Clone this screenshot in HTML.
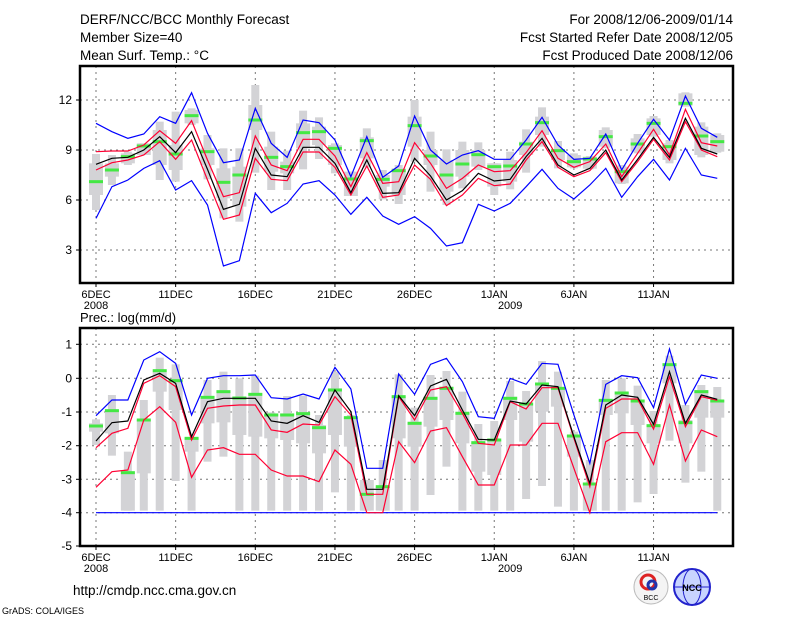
<!DOCTYPE html>
<html><head><meta charset="utf-8"><style>
html,body{margin:0;padding:0;background:#fff;width:800px;height:618px;overflow:hidden}
svg{display:block}
text{font-family:"Liberation Sans",sans-serif;fill:#000}
</style></head><body>
<svg id="s" width="800" height="618" xmlns="http://www.w3.org/2000/svg">
<text x="80" y="24" font-size="13.5">DERF/NCC/BCC Monthly Forecast</text>
<text x="80" y="42" font-size="13.5">Member Size=40</text>
<text x="80" y="60" font-size="13.5">Mean Surf. Temp.: °C</text>
<text x="733" y="24" font-size="13.5" text-anchor="end">For 2008/12/06-2009/01/14</text>
<text x="733" y="42" font-size="13.5" text-anchor="end">Fcst Started Refer Date 2008/12/05</text>
<text x="733" y="60" font-size="13.5" text-anchor="end">Fcst Produced Date 2008/12/06</text>
<text x="80" y="322" font-size="13">Prec.: log(mm/d)</text>
<text x="73" y="595" font-size="13.5">http://cmdp.ncc.cma.gov.cn</text>
<text x="2" y="614" font-size="9">GrADS: COLA/IGES</text>
<g>
<circle cx="651" cy="587" r="17" fill="#f4f4f4" stroke="#bbb"/>
<circle cx="648" cy="582" r="7" fill="none" stroke="#d22" stroke-width="3"/>
<circle cx="652" cy="585" r="4" fill="none" stroke="#23a" stroke-width="3"/>
<text x="651" y="600" font-size="7" text-anchor="middle" fill="#333">BCC</text>
<circle cx="692" cy="587" r="18" fill="#c8d4ff" stroke="#22c" stroke-width="2"/>
<ellipse cx="692" cy="587" rx="9" ry="18" fill="none" stroke="#22c"/>
<line x1="674" y1="587" x2="710" y2="587" stroke="#22c"/>
<text x="692" y="591" font-size="9" text-anchor="middle" fill="#22c" font-weight="bold">NCC</text>
</g>
</svg>
<script>
var S=document.getElementById('s'),NS='http://www.w3.org/2000/svg';
function el(t,a,txt){var e=document.createElementNS(NS,t);for(var k in a)e.setAttribute(k,a[k]);if(txt)e.textContent=txt;S.appendChild(e);return e;}
function X(i){return 96+15.93*i;}
function panel(oy,top,bot,hgrid,labels,d){
 // grid
 for(var k=0;k<8;k++){var x=X(k*5);el('line',{x1:x,y1:top,x2:x,y2:bot,stroke:'#777','stroke-dasharray':'2,4','stroke-width':1});}
 hgrid.forEach(function(g){el('line',{x1:80,y1:g[0],x2:733,y2:g[0],stroke:'#777','stroke-dasharray':'2,4','stroke-width':1});});
 function Y(z){return oy+z/3;}
 // bars
 d.bo.forEach(function(b,i){var x=X(i);el('rect',{x:x-4,y:Y(b[0]),width:8,height:Y(b[1])-Y(b[0]),fill:'#d3d3d6'});});
 d.bi.forEach(function(b,i){var x=X(i);el('rect',{x:x-7,y:Y(b[0]),width:14,height:Y(b[1])-Y(b[0]),fill:'#d3d3d6'});});
 d.g.forEach(function(v,i){el('rect',{x:X(i)-7,y:Y(v)-1.5,width:14,height:3,fill:'#44e844'});});
 function line(a,c){el('polyline',{points:a.map(function(v,i){return X(i)+','+Y(v)}).join(' '),fill:'none',stroke:c,'stroke-width':1.2});}
 line(d.bu,'#0000ff');line(d.bl,'#0000ff');line(d.ru,'#ff0033');line(d.rl,'#ff0033');line(d.k,'#000');
 el('rect',{x:80,y:top,width:653,height:bot-top,fill:'none',stroke:'#000','stroke-width':2.5});
 labels.forEach(function(l){el('line',{x1:76,y1:l[0],x2:80,y2:l[0],stroke:'#000'});el('text',{x:72,y:l[0]+4,'font-size':12,'text-anchor':'end'},l[1]);});
 var xl=['6DEC','11DEC','16DEC','21DEC','26DEC','1JAN','6JAN','11JAN'];
 for(var k=0;k<8;k++){var x=X(k*5);el('line',{x1:x,y1:bot,x2:x,y2:bot+4,stroke:'#000'});el('text',{x:x,y:bot+15,'font-size':11,'text-anchor':'middle'},xl[k]);}
 el('text',{x:X(0),y:bot+26,'font-size':11,'text-anchor':'middle'},'2008');
 el('text',{x:X(26),y:bot+26,'font-size':11,'text-anchor':'middle'},'2009');
}
var T={
bu:[130,155,175,162,110,130,38,160,248,240,85,190,232,120,128,180,290,170,292,258,108,210,252,225,212,238,238,180,112,195,238,235,162,270,190,118,180,48,145,172],
bl:[415,320,300,265,242,330,302,375,558,542,340,398,370,312,302,345,403,352,408,433,410,445,498,488,373,393,370,320,268,325,357,315,265,352,290,238,300,205,285,295],
ru:[215,213,213,195,152,190,122,240,350,338,168,255,272,178,178,228,320,218,310,305,188,250,325,295,255,275,272,218,152,235,262,245,192,290,220,148,225,88,188,198],
rl:[270,248,240,225,185,238,180,300,418,405,235,298,302,216,216,262,345,258,352,345,255,298,377,345,295,317,312,240,185,262,290,272,218,305,245,178,240,125,210,230],
k:[253,235,232,210,170,218,155,268,388,373,205,285,290,202,202,250,338,240,340,338,235,288,360,332,280,303,298,230,175,255,285,265,210,300,238,172,232,115,205,222],
g:[305,270,230,198,185,222,107,215,307,285,120,232,260,158,155,205,297,182,298,272,137,228,285,252,224,260,258,192,128,212,245,237,170,275,192,130,200,70,168,185],
bo:[[222,390],[225,315],[215,255],[190,225],[125,300],[95,305],[85,135],[165,298],[205,415],[205,425],[15,278],[155,330],[212,330],[92,268],[112,237],[190,280],[275,348],[145,262],[270,358],[255,372],[60,245],[155,335],[208,375],[185,325],[187,270],[250,345],[215,328],[148,278],[82,200],[183,265],[220,265],[228,268],[142,205],[255,312],[162,220],[108,170],[180,250],[37,80],[127,232],[160,218]],
bi:[[250,345],[250,290],[220,250],[190,225],[150,255],[195,270],[90,130],[205,255],[265,355],[260,380],[75,150],[200,275],[245,280],[130,205],[140,195],[195,255],[275,348],[172,235],[285,320],[265,345],[110,200],[210,255],[240,335],[210,290],[210,260],[250,320],[240,305],[185,225],[110,165],[210,240],[225,262],[230,266],[150,200],[260,310],[175,215],[115,165],[190,240],[40,78],[140,225],[165,215]]
};
var B={
bu:[272,225,225,105,80,115,270,160,152,152,150,218,222,207,222,127,192,430,430,147,208,118,100,170,275,280,160,178,115,118,270,415,178,152,158,248,72,238,150,160],
bl:Array(40).fill(563),
k:[348,293,288,165,145,175,335,230,220,220,220,288,295,272,292,195,260,493,493,212,272,183,163,255,343,345,228,237,180,185,335,475,240,210,217,298,140,295,210,223],
ru:[368,325,310,175,152,185,345,250,243,240,240,315,322,297,300,215,270,508,508,215,285,195,185,265,355,360,230,252,188,188,340,485,250,222,222,312,155,305,215,226],
rl:[487,440,435,285,245,292,457,375,368,388,388,435,453,453,470,375,418,563,563,350,413,318,308,395,480,480,360,360,295,295,430,563,350,323,323,418,240,408,315,335],
g:[303,257,443,285,137,167,340,217,200,219,208,270,270,266,308,195,278,508,485,215,295,220,190,265,353,345,220,237,177,190,333,477,226,204,228,302,119,293,200,228],
bo:[[283,360],[210,392],[380,557],[225,557],[98,557],[118,468],[340,557],[165,410],[140,395],[160,557],[152,557],[262,557],[213,557],[212,557],[270,557],[140,502],[270,557],[465,557],[405,557],[148,557],[248,557],[150,510],[138,425],[200,557],[297,557],[288,557],[168,557],[198,522],[108,483],[140,545],[320,557],[405,557],[165,557],[160,557],[182,532],[258,507],[92,347],[240,473],[180,440],[186,557]],
bi:[[295,320],[255,325],[440,557],[285,445],[140,200],[165,255],[340,380],[215,295],[200,292],[215,330],[205,335],[265,340],[265,345],[262,355],[300,385],[190,330],[275,365],[465,557],[485,557],[215,340],[290,365],[215,305],[185,285],[260,355],[350,440],[345,450],[215,285],[235,350],[175,260],[190,245],[330,395],[475,557],[225,270],[200,265],[225,300],[300,355],[120,175],[285,355],[195,278],[225,278]]
};
panel(80,66,283,[[100],[150],[200],[250]],[[100,'12'],[150,'9'],[200,'6'],[250,'3']],T);
panel(325,328,546,[[344.3],[378.3],[412],[445.7],[479.3],[512.7]],[[344.3,'1'],[378.3,'0'],[412,'-1'],[445.7,'-2'],[479.3,'-3'],[512.7,'-4'],[546,'-5']],B);
</script>
</body></html>
